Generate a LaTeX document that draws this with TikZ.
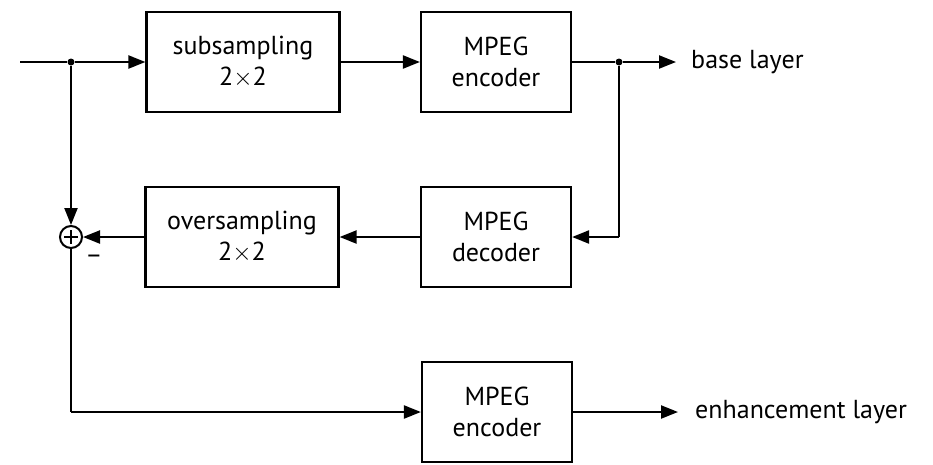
\documentclass[tikz,border=0pt]{standalone}
\usepackage{fontspec}
\setmainfont{PT Sans}
\usetikzlibrary{arrows.meta,calc}
\begin{document}
\begin{tikzpicture}[x=1pt,y=-1pt,
  blk/.style={draw,line width=2.2pt,minimum width=150pt,minimum height=100pt,inner sep=0pt,align=center,font=\fontsize{26}{31}\selectfont},
  wide/.style={blk,minimum width=193pt},
  conn/.style={line width=2.2pt,-{Triangle[length=17pt,width=13pt]}},
  ln/.style={line width=2.2pt},
  dotn/.style={circle,fill,inner sep=0pt,minimum size=7pt},
  lbl/.style={anchor=west,inner sep=0pt,font=\fontsize{26}{31}\selectfont}]
\useasboundingbox (0,0) rectangle (933,464);
\node[wide] (sub) at (243,62) {subsampling\\2$\times$2};
\node[blk] (enc) at (496,62) {MPEG\\encoder};
\node[wide] (over) at (242,237) {oversampling\\2$\times$2};
\node[blk] (dec) at (496,237) {MPEG\\decoder};
\node[blk] (enc2) at (497,412) {MPEG\\encoder};
\node[circle,draw,line width=2pt,minimum size=22pt,inner sep=0pt] (sum) at (71,237) {};
\draw[line width=1.6pt] ($(sum.center)+(-7,0)$) -- ($(sum.center)+(7,0)$);
\draw[line width=1.6pt] ($(sum.center)+(0,-7)$) -- ($(sum.center)+(0,7)$);
\node[font=\fontsize{26}{31}\selectfont,inner sep=0pt] (minus) at (94,259) {--};
\coordinate (in) at (20,62);
\node[dotn] (j1) at (71,62) {};
\node[dotn] (j2) at (619,62) {};
\node[lbl] (base) at (691,62) {base layer};
\node[lbl] (enh) at (695,412) {enhancement layer};
\coordinate (corner) at (71,412);
\coordinate (fb) at (619,237);
\draw[ln] (in) -- (j1);
\draw[conn] (j1) -- (sub.west);
\draw[conn] (sub.east) -- (enc.west);
\draw[ln] (enc.east) -- (j2);
\draw[conn] (j2) -- ($(base.west)+(-15,0)$);
\draw[conn] (j1) -- (sum.north);
\draw[ln] (j2) -- (fb);
\draw[conn] (fb) -- (dec.east);
\draw[conn] (dec.west) -- (over.east);
\draw[conn] (over.west) -- (sum.east);
\draw[ln] (sum.south) -- (corner);
\draw[conn] (corner) -- (enc2.west);
\draw[conn] (enc2.east) -- ($(enh.west)+(-17,0)$);
\end{tikzpicture}
\end{document}
